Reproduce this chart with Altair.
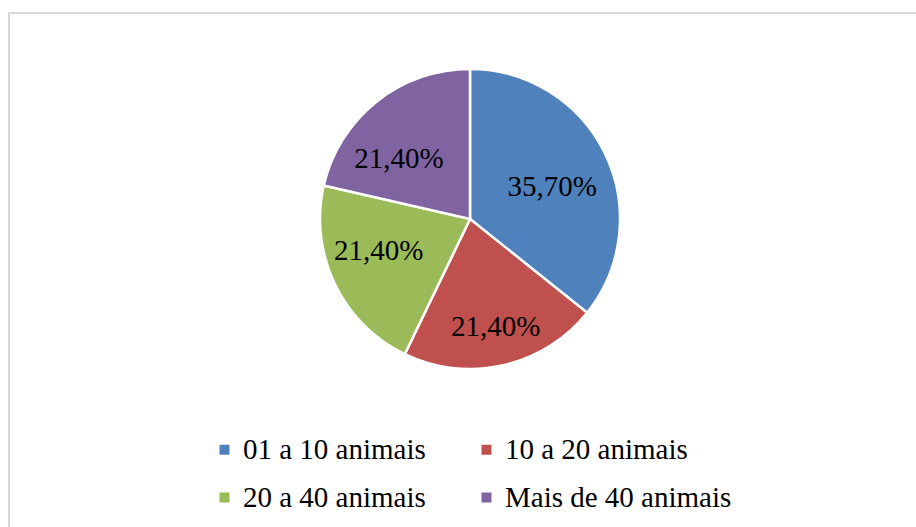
import altair as alt
import pandas as pd

# Share of properties by herd size
categories = ["01 a 10 animais", "10 a 20 animais", "20 a 40 animais", "Mais de 40 animais"]
shares = [35.7, 21.4, 21.4, 21.4]
colors = ["#4F81BD", "#C0504D", "#9BBB59", "#8064A2"]

df = pd.DataFrame({
    "faixa": categories,
    "pct": shares,
    "ordem": list(range(len(categories))),
    "rotulo": [f"{v:.2f}%".replace(".", ",") for v in shares],
})

W, H = 916, 527
CX, CY, R = 470, 219, 150
FONT = "Liberation Serif"
FSIZE = 29

base = alt.Chart(df).encode(
    theta=alt.Theta("pct:Q", stack=True),
    order=alt.Order("ordem:Q"),
)

pie = base.mark_arc(outerRadius=R, stroke="white", strokeWidth=2.5).encode(
    x=alt.value(CX),
    y=alt.value(CY),
    color=alt.Color(
        "faixa:N",
        sort=categories,
        scale=alt.Scale(domain=categories, range=colors),
        legend=alt.Legend(
            title=None,
            orient="none",
            direction="horizontal",
            legendX=210,
            legendY=435,
            columns=2,
            columnPadding=46,
            rowPadding=18,
            symbolType="square",
            symbolSize=100,
            symbolStrokeWidth=0,
            labelFont=FONT,
            labelFontSize=FSIZE,
            labelColor="#000000",
            labelOffset=4,
            labelLimit=400,
        ),
    ),
)

# Percentage labels, nudged inside each slice ("best fit" placement)
nudges = {0: (-6, 10), 1: (4, 12), 2: (-3, -10), 3: (-10, 17)}
label_layers = []
for idx, (ddx, ddy) in nudges.items():
    label_layers.append(
        base.mark_text(
            radius=98, font=FONT, fontSize=FSIZE, color="#000000", dx=ddx, dy=ddy
        ).encode(
            x=alt.value(CX),
            y=alt.value(CY),
            text=alt.condition(alt.datum.ordem == idx, "rotulo:N", alt.value("")),
        )
    )

# Light grey frame around the chart area
frame = alt.Chart(df).mark_rect(
    fill=None, stroke="#D9D9D9", strokeWidth=2
).encode(
    x=alt.value(9), x2=alt.value(W + 20),
    y=alt.value(13), y2=alt.value(H + 20),
)

chart = alt.layer(frame, pie, *label_layers).properties(
    width=W, height=H,
    autosize=alt.AutoSizeParams(type="none"),
    padding=0,
    background="white",
).configure_view(stroke=None)

chart.save("out.html", embed_options={"renderer": "svg", "actions": False})
